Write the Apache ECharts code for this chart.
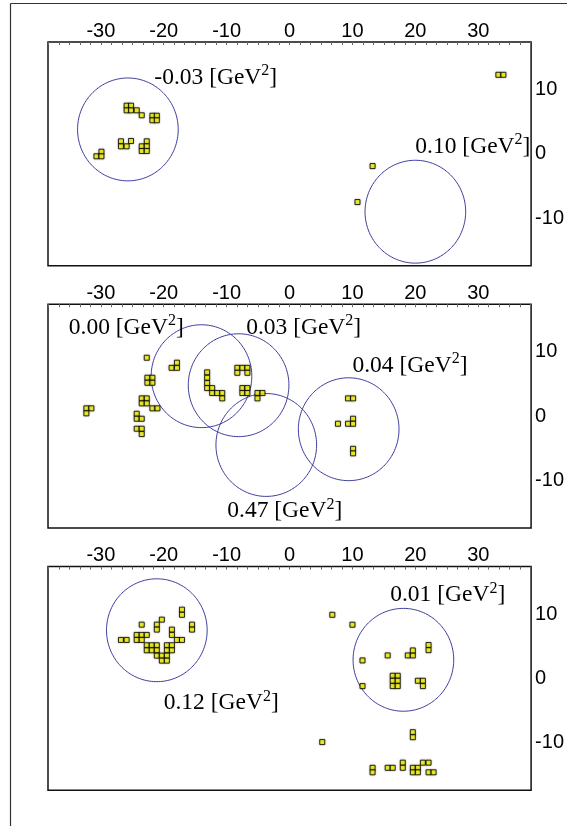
<!DOCTYPE html>
<html><head><meta charset="utf-8">
<script src="https://cdn.jsdelivr.net/npm/echarts@6/dist/echarts.min.js"></script>
<style>html,body{margin:0;padding:0;background:#fff}#c{width:567px;height:826px}</style>
</head><body><div id="c"></div>
<script>
// Axis tick labels
const xTickLabels = [-30, -20, -10, 0, 10, 20, 30];
const yTickLabels = [-10, 0, 10];
const xMin = -38.4, xMax = 38.4;
const yMin = -17.4, yMax = 17.4;

// Panel 1 points
const p1X = [-25.9,-25.2,-25.9,-25.2,-24.3,-23.5,-21.8,-21.1,-21.8,-21.1,-26.8,-26.8,-25.9,-25.2,-22.7,-23.5,-22.7,-23.5,-22.7,-30.7,-29.9,-29.9,33.2,34.0,13.2,10.8];
const p1Y = [7.49,7.49,6.77,6.77,6.77,6.0,5.93,5.93,5.22,5.22,1.95,1.17,1.17,2.0,1.95,1.17,1.17,0.44,0.44,-0.38,0.33,-0.38,12.3,12.3,-1.9,-7.5];
// Panel 2 points
const p2X = [-22.7,-18.75,-17.9,-17.9,-22.6,-21.8,-22.6,-21.8,-23.5,-22.7,-23.5,-22.7,-21.8,-21.0,-24.3,-24.3,-23.5,-24.3,-23.5,-23.5,-32.3,-31.5,-32.3,-13.1,-13.1,-13.1,-13.1,-12.3,-12.3,-11.5,-10.7,-10.7,-8.3,-7.5,-6.7,-8.3,-6.7,-7.5,-6.7,-7.5,-6.7,-5.1,-4.3,-5.1,9.3,10.1,7.7,9.3,10.1,10.1,10.1,10.1];
const p2Y = [9.07,7.5,7.5,8.3,5.96,5.96,5.18,5.18,2.75,2.75,1.97,1.97,1.2,1.2,0.36,-0.42,-0.42,-1.97,-1.97,-2.8,1.2,1.2,0.42,6.79,5.96,5.13,4.35,4.35,3.58,3.58,3.58,2.75,7.5,7.5,7.5,6.73,6.73,4.35,4.35,3.58,3.58,3.58,3.58,2.75,2.75,2.75,-1.2,-1.2,-0.42,-1.2,-5.1,-5.8];
// Panel 3 points
const p3X = [-17.1,-17.1,-23.5,-20.3,-21.1,-21.1,-15.5,-15.5,-24.3,-23.5,-22.7,-24.3,-23.5,-26.8,-25.9,-18.7,-18.7,-17.9,-17.1,-22.7,-21.9,-21.1,-22.7,-21.9,-21.1,-19.5,-18.7,-19.5,-18.7,-21.1,-20.3,-19.5,-20.3,-19.5,
  6.8,10.0,11.6,15.6,18.8,19.6,19.6,22.1,22.1,11.6,16.4,17.2,16.4,17.2,16.4,17.2,20.4,21.2,21.2,5.2,19.6,19.6,13.2,13.2,15.6,16.4,18.0,18.0,19.6,20.4,19.6,20.4,21.2,22.1,22.1,22.9];
const p3Y = [10.7,9.9,8.37,9.15,8.37,7.6,8.37,7.6,6.77,6.77,6.77,5.99,5.99,5.99,5.99,7.6,6.77,5.99,5.99,5.16,5.16,5.16,4.38,4.38,4.38,5.16,5.16,4.38,4.38,3.55,3.55,3.55,2.77,2.77,
  9.9,8.36,2.8,3.58,3.58,3.58,4.36,5.2,4.4,-1.19,0.42,0.42,-0.36,-0.36,-1.19,-1.19,-0.36,-0.36,-1.19,-9.9,-8.36,-9.14,-13.9,-14.6,-13.9,-13.9,-13.1,-13.9,-13.9,-13.9,-14.6,-14.6,-13.1,-13.1,-14.6,-14.6];

// Circles (center x, center y, radius) per panel
const c1X = [-25.7, 20.0], c1Y = [3.8, -9.0], c1R = [8, 8];
const c2X = [-14.0, -8.1, -3.7, 9.4], c2Y = [6.2, 4.8, -4.5, -2.05], c2R = [8, 8, 8, 8];
const c3X = [-21.1, 18.1], c3Y = [7.5, 2.9], c3R = [8, 8];

// Annotation labels (left x, middle y, value text)
const l1X = [-21.5, 20.0], l1Y = [11.85, 1.15], l1T = ['-0.03', '0.10'];
const l2X = [-35.1, -6.9, 10.0, -9.9], l2Y = [13.75, 13.75, 7.85, -14.75], l2T = ['0.00', '0.03', '0.04', '0.47'];
const l3X = [16.0, -20.0], l3Y = [12.95, -3.85], l3T = ['0.01', '0.12'];

const panels = [
  {px: p1X, py: p1Y, cx: c1X, cy: c1Y, cr: c1R, lx: l1X, ly: l1Y, lt: l1T},
  {px: p2X, py: p2Y, cx: c2X, cy: c2Y, cr: c2R, lx: l2X, ly: l2Y, lt: l2T},
  {px: p3X, py: p3Y, cx: c3X, cy: c3Y, cr: c3R, lx: l3X, ly: l3Y, lt: l3T}
];

const gridTops = [42, 304.2, 566.6];
const minorTicks = [];
for (let k = -23; k <= 23; k++) { const v = k * 10 / 6; if (v > xMin && v < xMax) minorTicks.push(+v.toFixed(4)); }

const grids = [], xAxes = [], yAxes = [], series = [];
panels.forEach((p, i) => {
  grids.push({left: 48, right: 29.5, top: gridTops[i], height: 223.7, show: true,
    borderColor: '#111', borderWidth: 1.5, backgroundColor: 'transparent'});
  xAxes.push({type: 'value', gridIndex: i, position: 'top', min: xMin, max: xMax,
    axisLine: {show: false, onZero: false}, splitLine: {show: false},
    axisTick: {show: true, inside: true, length: 3, customValues: minorTicks, lineStyle: {color: '#666', width: 1}},
    axisLabel: {customValues: xTickLabels, fontSize: 20, fontFamily: 'Liberation Sans', color: '#000', margin: 1}});
  yAxes.push({type: 'value', gridIndex: i, position: 'right', min: yMin, max: yMax,
    axisLine: {show: false, onZero: false}, splitLine: {show: false}, axisTick: {show: false},
    axisLabel: {customValues: yTickLabels, fontSize: 20, fontFamily: 'Liberation Sans', color: '#000', margin: 4}});
  series.push({type: 'custom', xAxisIndex: i, yAxisIndex: i, silent: true, z: 2,
    data: p.cx.map((v, k) => [v, p.cy[k], p.cr[k]]),
    renderItem: (params, api) => {
      const cx = api.value(0), cy = api.value(1), r = api.value(2);
      const pts = [];
      for (let k = 0; k <= 180; k++) {
        const a = k / 180 * 2 * Math.PI;
        pts.push(api.coord([cx + r * Math.cos(a), cy + r * Math.sin(a)]));
      }
      return {type: 'polyline', shape: {points: pts}, style: {stroke: '#3a3a9c', fill: null, lineWidth: 1}};
    }});
  series.push({type: 'scatter', xAxisIndex: i, yAxisIndex: i, silent: true, z: 3,
    symbol: 'rect', symbolSize: 5,
    itemStyle: {color: '#ffff00', borderColor: '#000', borderWidth: 1, shadowColor: 'rgba(0,0,0,0.35)', shadowBlur: 2},
    data: p.px.map((v, k) => [v, p.py[k]])});
  series.push({type: 'custom', xAxisIndex: i, yAxisIndex: i, silent: true, z: 4,
    data: p.lx.map((v, k) => [v, p.ly[k]]),
    renderItem: (params, api) => {
      const pt = api.coord([api.value(0), api.value(1)]);
      const t = p.lt[params.dataIndex];
      return {type: 'text', x: pt[0], y: pt[1], style: {
        text: '{m|' + t + ' [GeV}{s|2}{m|]}', align: 'left', verticalAlign: 'middle',
        rich: {
          m: {fontSize: 23.5, fontFamily: 'Liberation Serif', fill: '#000'},
          s: {fontSize: 16, fontFamily: 'Liberation Serif', fill: '#000', padding: [0, 0, 13, 0]}
        }}};
    }});
});

const chart = echarts.init(document.getElementById('c'), null, {renderer: 'canvas'});
chart.setOption({
  animation: false,
  backgroundColor: '#fff',
  grid: grids, xAxis: xAxes, yAxis: yAxes, series: series,
  graphic: [
    {type: 'line', shape: {x1: 10.5, y1: 3.5, x2: 567, y2: 3.5}, style: {stroke: '#333', lineWidth: 1.2}},
    {type: 'line', shape: {x1: 10.5, y1: 3.5, x2: 10.5, y2: 826}, style: {stroke: '#333', lineWidth: 1.2}}
  ]
});
</script></body></html>
